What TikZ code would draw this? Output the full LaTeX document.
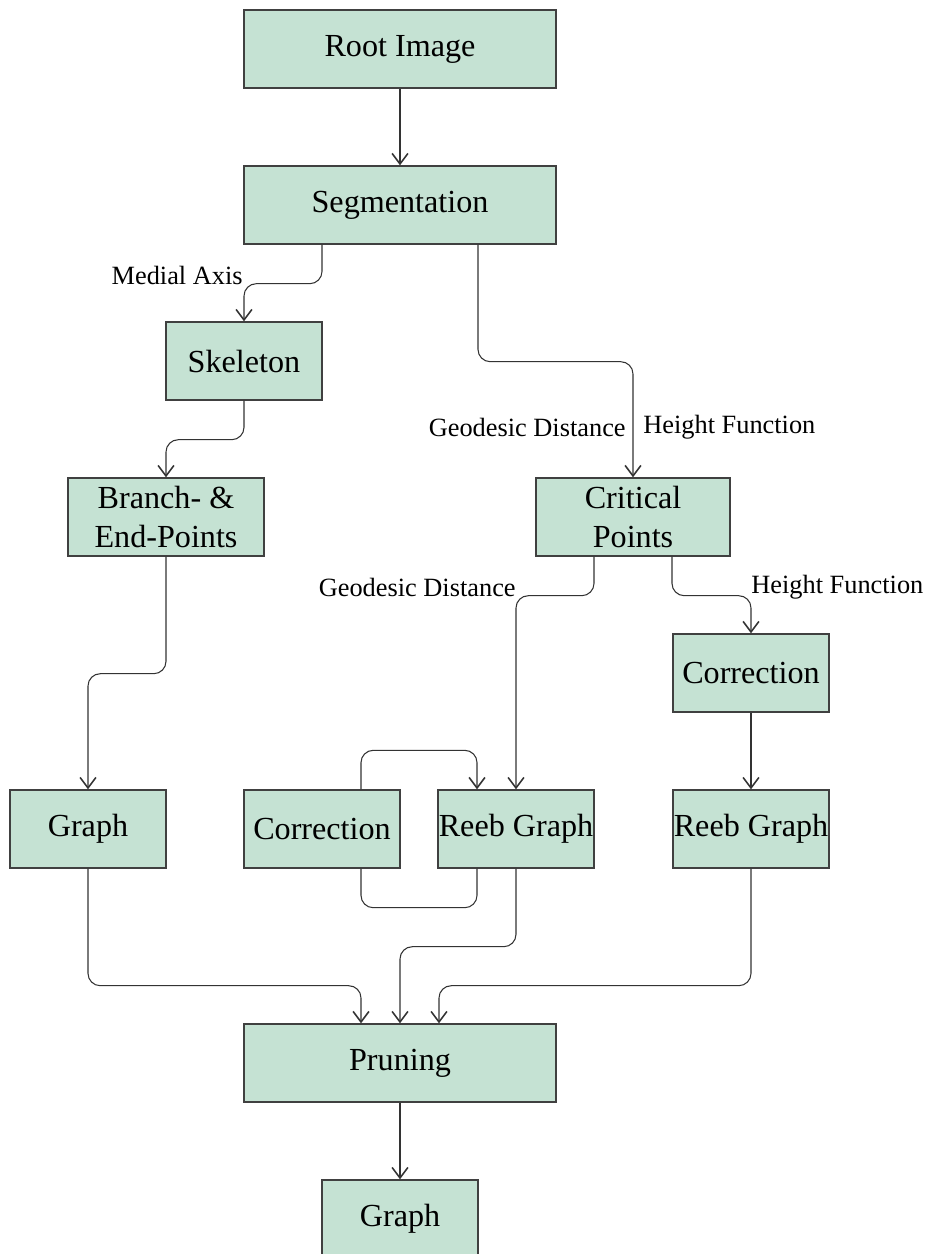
\documentclass[tikz,border=0pt]{standalone}
\usepackage{fontspec}
\setmainfont{Liberation Serif}
\usetikzlibrary{arrows.meta}
\definecolor{boxgreen}{RGB}{197,226,211}
\begin{document}
\begin{tikzpicture}[x=0.02cm,y=-0.02cm,
	box/.style={draw=black!75,line width=0.8pt,fill=boxgreen,minimum width=3.12cm,minimum height=1.56cm,inner sep=0pt,align=center,font=\fontsize{18.3}{22}\selectfont},
	flow/.style={draw=black!80,line width=0.6pt,rounded corners=7pt,-{Straight Barb[length=6pt,width=9pt,line width=0.9pt]}},
	lbl/.style={inner sep=0pt,font=\fontsize{15}{18}\selectfont}]
	\useasboundingbox (0,0) rectangle (934,1254);

	\node[box,minimum width=6.24cm] (root) at (400,49) {Root Image};
	\node[box,minimum width=6.24cm] (seg) at (400,205) {Segmentation};
	\node[box] (skel) at (244,361) {Skeleton};
	\node[box,minimum width=3.92cm] (branch) at (166,517) {Branch- \&\\End-Points};
	\node[box,minimum width=3.88cm] (crit) at (633,517) {Critical\\Points};
	\node[box] (corrR) at (751,673) {Correction};
	\node[box] (graph) at (88,829) {Graph};
	\node[box] (corrM) at (322,829) {Correction};
	\node[box] (reebM) at (516,829) {Reeb Graph};
	\node[box] (reebR) at (751,829) {Reeb Graph};
	\node[box,minimum width=6.24cm] (prun) at (400,1063) {Pruning};
	\node[box] (final) at (400,1219) {Graph};

	\node[lbl,anchor=east] (medial) at (243,275) {Medial Axis};
	\node[lbl,anchor=east] (geoA) at (626,427) {Geodesic Distance};
	\node[lbl,anchor=west] (heightA) at (643,427) {Height Function};
	\node[lbl,anchor=east] (geoB) at (516,587) {Geodesic Distance};
	\node[lbl,anchor=west] (heightB) at (751,587) {Height Function};

	\draw[flow] (root) -- (seg);
	\draw[flow] ([xshift=-1.56cm]seg.south) -- ++(0,39) -| (skel.north);
	\draw[flow] ([xshift=1.56cm]seg.south) -- ++(0,117) -| (crit.north);
	\draw[flow] (skel.south) -- ++(0,39) -| (branch.north);
	\draw[flow] (branch.south) -- ++(0,117) -| (graph.north);
	\draw[flow] ([xshift=-0.78cm]crit.south) -- ++(0,39) -| (reebM.north);
	\draw[flow] ([xshift=0.78cm]crit.south) -- ++(0,39) -| (corrR.north);
	\draw[flow] (corrR) -- (reebR);
	\draw[flow] ([xshift=0.78cm]corrM.north) -- ++(0,-39) -| ([xshift=-0.78cm]reebM.north);
	\draw[flow,-] ([xshift=-0.78cm]reebM.south) -- ++(0,39) -| ([xshift=0.78cm]corrM.south);
	\draw[flow] (graph.south) -- ++(0,117) -| ([xshift=-0.78cm]prun.north);
	\draw[flow] (reebM.south) -- ++(0,78) -| (prun.north);
	\draw[flow] (reebR.south) -- ++(0,117) -| ([xshift=0.78cm]prun.north);
	\draw[flow] (prun) -- (final);
\end{tikzpicture}
\end{document}
